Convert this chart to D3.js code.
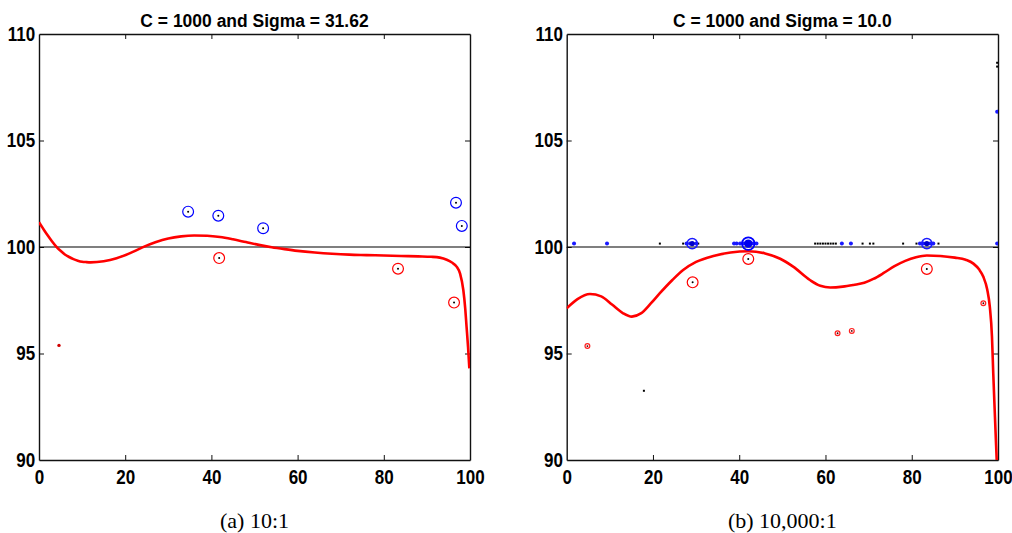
<!DOCTYPE html>
<html>
<head>
<meta charset="utf-8">
<script src="https://cdn.jsdelivr.net/npm/d3@7"></script>
<style>
  html, body { margin: 0; padding: 0; background: #fff; }
  svg { display: block; }
  .tick text { font-family: "Liberation Sans", Arial, sans-serif; font-weight: bold; }
</style>
</head>
<body>
<svg id="chart" width="1012" height="533"></svg>
<script>
// ---- shared axes ----
const xTicks = [0, 20, 40, 60, 80, 100];
const yTicks = [90, 95, 100, 105, 110];
const xDomain = [0, 100];
const yDomain = [90, 110];
const baseline = 100;

// ---- panel (a): C = 1000, Sigma = 31.62 ----
const titleA = "C = 1000 and Sigma = 31.62";
const captionA = "(a) 10:1";
const curveA = [
  [0, 101.16], [1, 100.85], [2, 100.55], [3, 100.27], [4, 100.02], [5, 99.82],
  [6, 99.65], [7, 99.53], [8, 99.43], [9, 99.36], [10, 99.31], [11, 99.29],
  [12, 99.28], [15, 99.33], [18, 99.47], [21, 99.7], [24, 99.98], [27, 100.22],
  [30, 100.4], [33, 100.5], [36, 100.54], [39, 100.53], [42, 100.47],
  [45, 100.36], [48, 100.23], [51, 100.1], [54, 99.99], [57, 99.9], [60, 99.82],
  [64, 99.74], [68, 99.68], [72, 99.64], [76, 99.62], [80, 99.6], [84, 99.58],
  [88, 99.56], [91, 99.54], [93, 99.5], [94.6, 99.4], [95.8, 99.27],
  [96.9, 99.08], [97.7, 98.75], [98.45, 97.98], [98.9, 97.1], [99.2, 96.26],
  [99.55, 95.3], [99.85, 94.3]
];
const blueRingsA = [[34.6, 101.66], [41.6, 101.47], [52.0, 100.88], [96.75, 102.08], [98.1, 100.99]];
const redRingsA = [[41.8, 99.48], [83.3, 98.98], [96.3, 97.39]];
const redDotsA = [[4.64, 95.38]];

// ---- panel (b): C = 1000, Sigma = 10.0 ----
const titleB = "C = 1000 and Sigma = 10.0";
const captionB = "(b) 10,000:1";
const curveB = [
  [0, 97.12], [2.5, 97.55], [5.4, 97.79], [8, 97.68], [10.5, 97.3], [13, 96.9],
  [15.1, 96.73], [17.2, 96.88], [19.5, 97.35], [21.6, 97.83], [24.5, 98.45],
  [27, 98.92], [30, 99.3], [34, 99.58], [38, 99.74], [42.1, 99.8], [46, 99.7],
  [49.5, 99.45], [52.5, 99.08], [56.4, 98.45], [58.8, 98.18], [61.1, 98.1],
  [64, 98.14], [66.5, 98.22], [69, 98.32], [71.1, 98.5], [73.5, 98.78],
  [76, 99.1], [78.5, 99.35], [81, 99.52], [83.5, 99.6], [86.6, 99.58],
  [90, 99.5], [92.5, 99.4], [94.3, 99.22], [95.6, 98.95], [96.6, 98.6],
  [97.5, 98.0], [98.1, 97.2], [98.6, 95.8], [98.9, 94.07], [99.3, 92.0], [99.7, 90], [99.8, 89.5]
];
const redRingsB = [[29.2, 98.34], [42.1, 99.44], [83.5, 98.97]];
const redSmallRingsB = [[4.8, 95.35], [62.8, 95.95], [66.1, 96.06], [96.6, 97.36]];
const blueRingsB = [[29.1, 100.16], [83.5, 100.16]];
const blueBigRingsB = [[42.1, 100.16]];
const blueDotsB = [
  [1.7, 100.16], [9.35, 100.16], [27.8, 100.16], [28.6, 100.16], [30.0, 100.16],
  [38.8, 100.16], [39.4, 100.16], [40.2, 100.16], [41.0, 100.16], [42.9, 100.16],
  [43.4, 100.16], [44.0, 100.16], [63.8, 100.16], [65.9, 100.16], [81.9, 100.16],
  [82.7, 100.16], [84.3, 100.16], [85.0, 100.16], [99.8, 100.16], [99.8, 106.35]
];
const blackDotsB = [
  [17.9, 93.25], [21.6, 100.16], [27.0, 100.16], [30.5, 100.16],
  [57.6, 100.16], [58.2, 100.16], [58.8, 100.16], [59.4, 100.16], [60.0, 100.16],
  [60.6, 100.16], [61.2, 100.16], [61.8, 100.16], [62.4, 100.16],
  [68.6, 100.16], [70.3, 100.16], [71.1, 100.16], [78.0, 100.16], [81.1, 100.16],
  [86.2, 100.16], [99.8, 108.65], [99.8, 108.47]
];

const svg = d3.select("#chart");
const plotTop = 34, plotBottom = 460;
const squeeze = 0.85; // narrow bold lettering for the axis numbers

function panel(id, left, right, title, caption) {
  const g = svg.append("g").attr("id", id);
  const x = d3.scaleLinear().domain(xDomain).range([left, right]);
  const y = d3.scaleLinear().domain(yDomain).range([plotBottom, plotTop]);

  g.append("clipPath").attr("id", id + "-clip")
    .append("rect").attr("x", left).attr("y", plotTop)
    .attr("width", right - left).attr("height", plotBottom - plotTop);

  // box axes with inward ticks, labels on the left and bottom only
  const ax = (axis, tx, ty) => g.append("g").attr("transform", `translate(${tx},${ty})`).call(axis);
  const styleAxis = sel => {
    sel.select(".domain").attr("stroke", "#111").attr("stroke-width", 1.4);
    sel.selectAll(".tick line").attr("stroke", "#111").attr("stroke-width", 1);
  };
  const xb = ax(d3.axisBottom(x).tickValues(xTicks).tickSizeInner(-5).tickSizeOuter(0).tickPadding(10), 0, plotBottom);
  const xt = ax(d3.axisTop(x).tickValues(xTicks).tickSizeInner(-5).tickSizeOuter(0).tickFormat(""), 0, plotTop);
  const yl = ax(d3.axisLeft(y).tickValues(yTicks).tickSizeInner(-5).tickSizeOuter(0).tickPadding(4.5), left, 0);
  const yr = ax(d3.axisRight(y).tickValues(yTicks).tickSizeInner(-5).tickSizeOuter(0).tickFormat(""), right, 0);
  [xb, xt, yl, yr].forEach(styleAxis);
  xb.selectAll(".tick text").attr("font-size", 20).attr("fill", "#000").attr("dy", "0.71em")
    .attr("transform", `scale(${squeeze},1)`);
  yl.selectAll(".tick text").attr("font-size", 20).attr("fill", "#000")
    .attr("transform", `scale(${squeeze},1)`);
  // end ticks touching the box corners are hidden by the frame
  xb.selectAll(".tick line").filter(d => d === 0 || d === 100).remove();
  xt.selectAll(".tick line").filter(d => d === 0 || d === 100).remove();
  yl.selectAll(".tick line").filter(d => d === 90 || d === 110).remove();
  yr.selectAll(".tick line").filter(d => d === 90 || d === 110).remove();

  // title and caption
  svg.append("text")
    .attr("transform", `translate(${(left + right) / 2},27) scale(0.92,1)`)
    .attr("text-anchor", "middle")
    .attr("font-family", "Liberation Sans, Arial, sans-serif")
    .attr("font-weight", "bold").attr("font-size", 19)
    .text(title);
  svg.append("text").attr("x", (left + right) / 2).attr("y", 528)
    .attr("text-anchor", "middle")
    .attr("font-family", "Liberation Serif, Times New Roman, serif")
    .attr("font-size", 22)
    .text(caption);

  const plot = g.append("g").attr("clip-path", `url(#${id}-clip)`);
  // reference line at the nominal value
  plot.append("line")
    .attr("x1", left).attr("x2", right)
    .attr("y1", y(baseline)).attr("y2", y(baseline))
    .attr("stroke", "#000").attr("stroke-width", 1.1);

  return { g, plot, x, y };
}

function rings(p, data, r, color, width, centre) {
  const sel = p.plot.append("g").selectAll("g").data(data).join("g")
    .attr("transform", d => `translate(${p.x(d[0])},${p.y(d[1])})`);
  sel.append("circle").attr("r", r).attr("fill", "none")
    .attr("stroke", color).attr("stroke-width", width);
  if (centre) sel.append("circle").attr("r", centre.r).attr("fill", centre.color);
}

function dots(p, data, r, color) {
  p.plot.append("g").selectAll("circle").data(data).join("circle")
    .attr("cx", d => p.x(d[0])).attr("cy", d => p.y(d[1]))
    .attr("r", r).attr("fill", color);
}

function squares(p, data, s, color) {
  p.plot.append("g").selectAll("rect").data(data).join("rect")
    .attr("x", d => p.x(d[0]) - s / 2).attr("y", d => p.y(d[1]) - s / 2)
    .attr("width", s).attr("height", s).attr("fill", color);
}

function fitLine(p, data) {
  const line = d3.line().x(d => p.x(d[0])).y(d => p.y(d[1])).curve(d3.curveMonotoneX);
  p.plot.append("path").datum(data).attr("d", line)
    .attr("fill", "none").attr("stroke", "#ff0000").attr("stroke-width", 2.6)
    .attr("stroke-linejoin", "round");
}

// panel (a)
const pa = panel("pa", 39, 470, titleA, captionA);
fitLine(pa, curveA);
rings(pa, blueRingsA, 5.4, "#0000ff", 1.2, { r: 1, color: "#000" });
rings(pa, redRingsA, 5.4, "#ff0000", 1.2, { r: 1, color: "#000" });
dots(pa, redDotsA, 1.7, "#d00000");

// panel (b)
const pb = panel("pb", 566.7, 998, titleB, captionB);
fitLine(pb, curveB);
squares(pb, blackDotsB, 2, "#000");
dots(pb, blueDotsB, 2, "#1a1aff");
rings(pb, blueRingsB, 5.2, "#1a1aff", 1.5, { r: 2.6, color: "#0000cc" });
rings(pb, blueBigRingsB, 6.3, "#0000ff", 1.8, { r: 4.2, color: "#0000ee" });
rings(pb, redRingsB, 5.4, "#ff0000", 1.2, { r: 1, color: "#000" });
rings(pb, redSmallRingsB, 2.4, "#ff2020", 1.2, { r: 0.9, color: "#400" });
</script>
</body>
</html>
